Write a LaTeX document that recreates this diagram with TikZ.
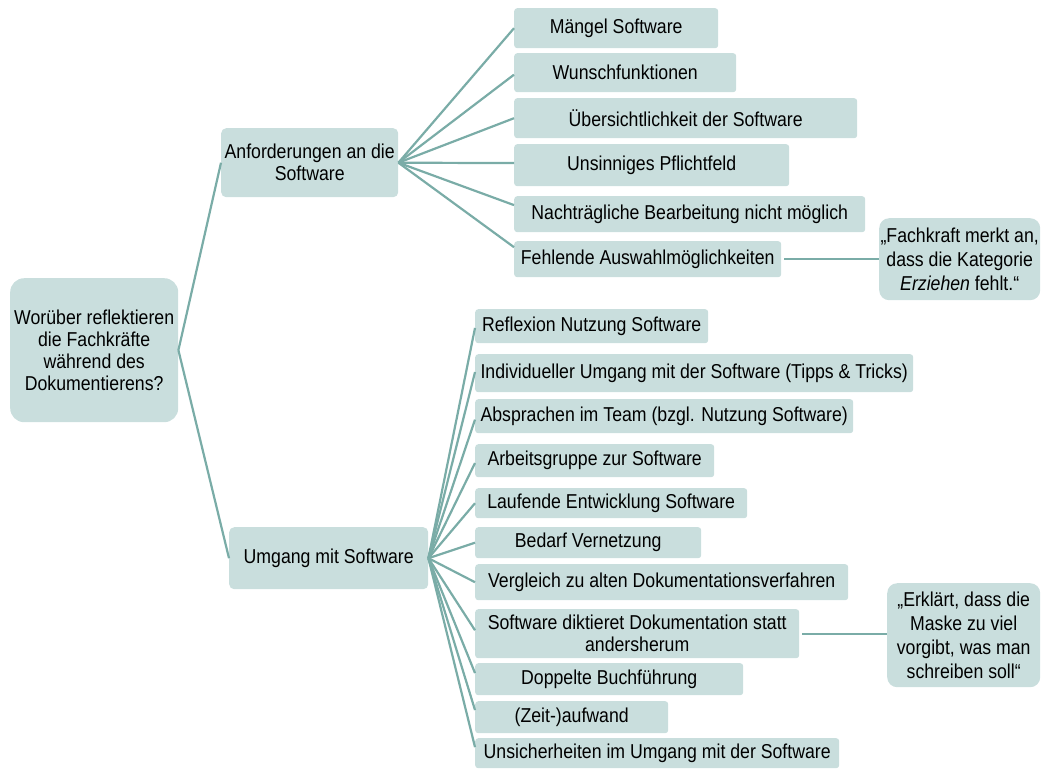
\documentclass[tikz,border=0pt]{standalone}
\usepackage{fontspec}
\setmainfont{Liberation Sans}[FakeStretch=0.88]
\usetikzlibrary{calc}

\definecolor{boxfill}{HTML}{C9DEDD}
\definecolor{linkcol}{HTML}{7AACA7}

\tikzset{
  box/.style={fill=boxfill, rounded corners=3pt, anchor=north west, inner sep=0pt,
    align=center, text=black, font=\fontsize{20.1}{22}\selectfont},
  hub/.style={box, rounded corners=5pt},
  rootbox/.style={box, rounded corners=14pt},
  quote/.style={box, rounded corners=10pt, font=\fontsize{20.1}{24}\selectfont},
  link/.style={draw=linkcol, line width=2.2pt},
}

\begin{document}
\begin{tikzpicture}[x=1pt, y=-1pt]
\useasboundingbox (0,0) rectangle (1043,769);

% root question
\node[rootbox, minimum width=168pt, minimum height=144pt] (root) at (10,278)
  {Worüber reflektieren\\die Fachkräfte\\während des\\Dokumentierens?};

% two main branches
\node[hub, minimum width=177pt, minimum height=69pt] (anf) at (221,128)
  {Anforderungen an die\\Software};
\node[hub, minimum width=199pt, minimum height=62pt] (umg) at (229,527)
  {Umgang mit Software};

% requirements
\node[box, minimum width=204pt, minimum height=40pt] (a1) at (514,8)   {Mängel Software};
\node[box, minimum width=222pt, minimum height=39pt] (a2) at (514,53)  {Wunschfunktionen};
\node[box, minimum width=343pt, minimum height=40pt] (a3) at (514,98)  {Übersichtlichkeit der Software};
\node[box, minimum width=275pt, minimum height=42pt] (a4) at (514,144) {Unsinniges Pflichtfeld};
\node[box, minimum width=351pt, minimum height=36pt] (a5) at (514,196) {Nachträgliche Bearbeitung nicht möglich};
\node[box, minimum width=267pt, minimum height=36pt] (a6) at (514,241) {Fehlende Auswahlmöglichkeiten};

\node[quote, minimum width=161pt, minimum height=82pt] (q1) at (879,218)
  {„Fachkraft merkt an,\\dass die Kategorie\\\textit{Erziehen} fehlt.“};

% handling of the software
\node[box, minimum width=233pt, minimum height=34pt] (u1)  at (475,309) {Reflexion Nutzung Software};
\node[box, minimum width=438pt, minimum height=38pt] (u2)  at (475,354) {Individueller Umgang mit der Software (Tipps \& Tricks)};
\node[box, minimum width=378pt, minimum height=34pt] (u3)  at (475,399) {Absprachen im Team (bzgl. Nutzung Software)};
\node[box, minimum width=239pt, minimum height=33pt] (u4)  at (475,444) {Arbeitsgruppe zur Software};
\node[box, minimum width=272pt, minimum height=30pt] (u5)  at (475,488) {Laufende Entwicklung Software};
\node[box, minimum width=226pt, minimum height=31pt] (u6)  at (475,527) {Bedarf Vernetzung};
\node[box, minimum width=373pt, minimum height=36pt] (u7)  at (475,564) {Vergleich zu alten Dokumentationsverfahren};
\node[box, minimum width=324pt, minimum height=49pt] (u8)  at (475,609) {Software diktieret Dokumentation statt\\andersherum};
\node[box, minimum width=268pt, minimum height=32pt] (u9)  at (475,663) {Doppelte Buchführung};
\node[box, minimum width=193pt, minimum height=32pt] (u10) at (475,701) {(Zeit-)aufwand};
\node[box, minimum width=364pt, minimum height=30pt] (u11) at (475,738) {Unsicherheiten im Umgang mit der Software};

\node[quote, minimum width=153pt, minimum height=104pt] (q2) at (887,583)
  {„Erklärt, dass die\\Maske zu viel\\vorgibt, was man\\schreiben soll“};

% connectors
\draw[link] (root.east) -- (anf.west);
\draw[link] (root.east) -- (umg.west);

\foreach \n/\f in {a1/0.5, a2/0.55, a3/0.5, a4/0.45, a5/0.25, a6/0.17}
  \draw[link] (anf.east) -- ($(\n.north west)!\f!(\n.south west)$);

\foreach \n/\f in {u1/0.55, u2/0.47, u3/0.6, u4/0.57, u5/0.5, u6/0.5,
                   u7/0.5, u8/0.43, u9/0.31, u10/0.28, u11/0.3}
  \draw[link] (umg.east) -- ($(\n.north west)!\f!(\n.south west)$);

\draw[link] ([xshift=3pt]a6.east) -- (a6.east -| q1.west);
\draw[link] ([xshift=3pt]u8.east) -- (u8.east -| q2.west);
\end{tikzpicture}
\end{document}
